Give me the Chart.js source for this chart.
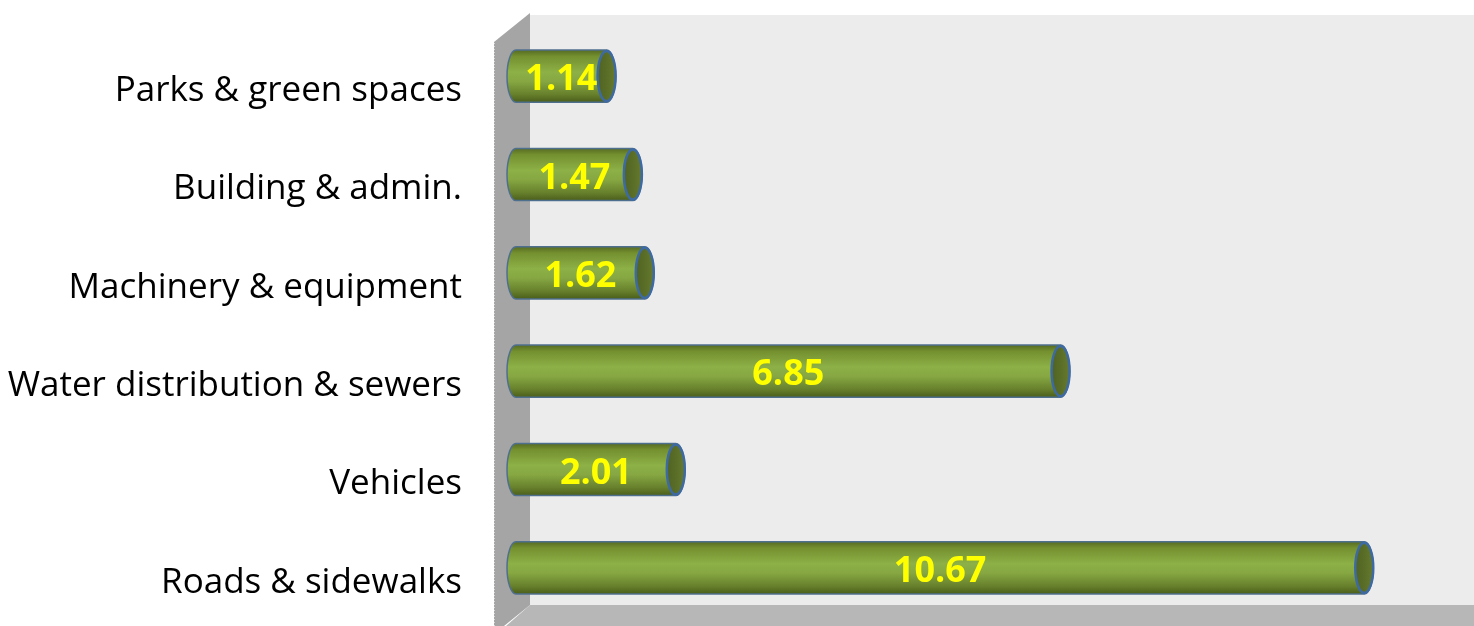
<!DOCTYPE html>
<html>
<head>
<meta charset="utf-8">
<script src="https://cdn.jsdelivr.net/npm/chart.js@4.4.1/dist/chart.umd.min.js"></script>
<style>
  html, body { margin: 0; padding: 0; background: #fff; }
  #wrap { width: 1474px; height: 626px; position: relative; }
</style>
</head>
<body>
<div id="wrap"><canvas id="chart"></canvas></div>
<script>
// datos
const categorias = ['Parks & green spaces', 'Building & admin.', 'Machinery & equipment', 'Water distribution & sewers', 'Vehicles', 'Roads & sidewalks'];
const valores = [1.14, 1.47, 1.62, 6.85, 2.01, 10.67];
const etiquetas = ['1.14', '1.47', '1.62', '6.85', '2.01', '10.67'];

const LABEL_FONT = '"Open Sans", sans-serif';

// fondo 3D: pared trasera, pared izquierda y piso
const fondo3d = {
  id: 'fondo3d',
  beforeDraw(chart) {
    const { ctx, chartArea: a, width, height } = chart;
    const dx = 14, dy = 12;
    ctx.save();
    // pared trasera
    ctx.fillStyle = '#ececec';
    ctx.fillRect(a.left + dx, a.top - dy, width - (a.left + dx), a.bottom - a.top);
    // piso
    ctx.fillStyle = '#b7b7b7';
    ctx.beginPath();
    ctx.moveTo(a.left + dx, a.bottom - dy);
    ctx.lineTo(width, a.bottom - dy);
    ctx.lineTo(width, height);
    ctx.lineTo(a.left - 10, height);
    ctx.closePath();
    ctx.fill();
    // pared izquierda
    ctx.fillStyle = '#a5a5a5';
    ctx.beginPath();
    ctx.moveTo(a.left - 22, a.top + 15);
    ctx.lineTo(a.left + dx, a.top - 14);
    ctx.lineTo(a.left + dx, a.bottom - dy);
    ctx.lineTo(a.left - 12, height);
    ctx.lineTo(a.left - 22, height);
    ctx.closePath();
    ctx.fill();
    // borde dentado de la pared
    ctx.fillStyle = '#d8d8d8';
    for (let y = a.top + 16; y < height; y += 3) ctx.fillRect(a.left - 22, y, 1, 1);
    ctx.restore();
  }
};

// cilindros dibujados sobre los elementos de barra
const cilindros = {
  id: 'cilindros',
  afterDatasetsDraw(chart) {
    const { ctx } = chart;
    const meta = chart.getDatasetMeta(0);
    ctx.save();
    meta.data.forEach((bar, i) => {
      const x0 = bar.base, x1 = bar.x, yc = bar.y, h = bar.height;
      const top = yc - h / 2, bot = yc + h / 2;
      const rx = 9, ry = h / 2;

      const g = ctx.createLinearGradient(0, top, 0, bot);
      g.addColorStop(0, '#566b22');
      g.addColorStop(0.12, '#74902f');
      g.addColorStop(0.42, '#8db047');
      g.addColorStop(0.6, '#86a742');
      g.addColorStop(0.85, '#67802c');
      g.addColorStop(1, '#4b5e1a');

      // cuerpo
      ctx.beginPath();
      ctx.moveTo(x1, top);
      ctx.lineTo(x0, top);
      ctx.ellipse(x0, yc, rx, ry, 0, -Math.PI / 2, Math.PI / 2, true);
      ctx.lineTo(x1, bot);
      ctx.ellipse(x1, yc, rx, ry, 0, Math.PI / 2, -Math.PI / 2, true);
      ctx.closePath();
      ctx.fillStyle = g;
      ctx.fill();
      ctx.lineWidth = 1.5;
      ctx.strokeStyle = '#4f6f8f';
      ctx.stroke();

      // tapa derecha
      ctx.beginPath();
      ctx.ellipse(x1, yc, rx, ry - 1, 0, 0, Math.PI * 2);
      const gc = ctx.createLinearGradient(x1 - rx, 0, x1 + rx, 0);
      gc.addColorStop(0, '#4f6221');
      gc.addColorStop(1, '#66792e');
      ctx.fillStyle = gc;
      ctx.fill();
      ctx.lineWidth = 2.5;
      ctx.strokeStyle = '#3e6aa3';
      ctx.stroke();

      // etiqueta
      ctx.font = 'bold 36px ' + LABEL_FONT;
      ctx.fillStyle = '#ffff00';
      ctx.textAlign = 'center';
      ctx.textBaseline = 'middle';
      ctx.fillText(etiquetas[i], (x0 + x1) / 2, yc + 4);
    });
    ctx.restore();
  }
};

new Chart(document.getElementById('chart'), {
  type: 'bar',
  data: {
    labels: categorias,
    datasets: [{
      data: valores,
      backgroundColor: 'rgba(0,0,0,0)',
      borderWidth: 0,
      barPercentage: 0.53,
      categoryPercentage: 1
    }]
  },
  options: {
    indexAxis: 'y',
    responsive: true,
    maintainAspectRatio: false,
    animation: false,
    layout: { padding: { top: 27, bottom: 9, right: 4, left: 0 } },
    plugins: { legend: { display: false }, tooltip: { enabled: false } },
    scales: {
      x: { display: false, min: 0, max: 12 },
      y: {
        grid: { display: false, drawTicks: false },
        border: { display: false },
        ticks: { font: { family: LABEL_FONT, size: 35 }, color: '#000', padding: 54, labelOffset: 15 },
        afterFit(scale) {
          scale.width = 516;
          scale.paddingTop = 0;
          scale.paddingBottom = 0;
        }
      }
    }
  },
  plugins: [fondo3d, cilindros]
});
</script>
</body>
</html>
